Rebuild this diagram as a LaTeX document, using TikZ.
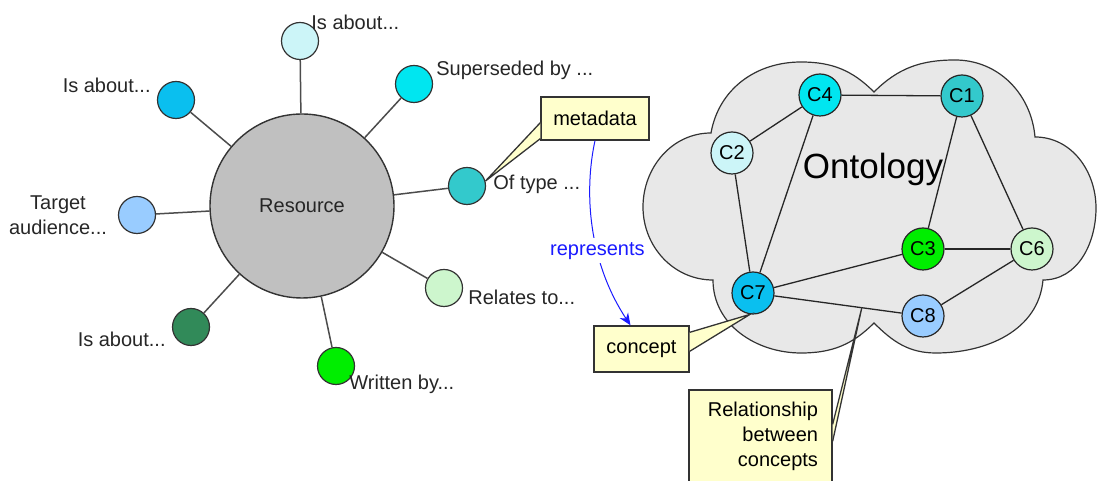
\documentclass[tikz,border=0pt]{standalone}
\usepackage{fontspec}
\setmainfont{Liberation Sans}
\usetikzlibrary{arrows.meta,calc}
\definecolor{resgray}{HTML}{C0C0C0}
\definecolor{cloudgray}{HTML}{E8E8E8}
\definecolor{noteyellow}{HTML}{FFFFCC}
\definecolor{spotpale}{HTML}{CCF5F8}
\definecolor{spotcyan}{HTML}{00E6F0}
\definecolor{spotsky}{HTML}{0ABFEF}
\definecolor{spotteal}{HTML}{33C9CC}
\definecolor{spotblue}{HTML}{99CCFF}
\definecolor{spotmint}{HTML}{CDF6CD}
\definecolor{spotdark}{HTML}{318A59}
\definecolor{spotgreen}{HTML}{00EE00}
\definecolor{repblue}{HTML}{1A1AFF}
\definecolor{labelgray}{HTML}{262626}

\begin{document}
\begin{tikzpicture}[x=0.5pt,y=0.5pt,
    font=\fontsize{10}{12.5}\selectfont,
    spot/.style={circle,draw=black!80,line width=0.6pt,minimum size=18.5pt,inner sep=0pt},
    cnode/.style={circle,draw=black!85,line width=0.6pt,minimum size=21pt,inner sep=0pt},
    spoke/.style={black!70,line width=0.75pt},
    link/.style={black!85,line width=0.65pt},
    note/.style={draw=black!80,fill=noteyellow,line width=0.65pt},
    lbl/.style={text=labelgray,inner sep=0pt}]
  \useasboundingbox(0,0)rectangle(1098,481);
  \clip(0,0)rectangle(1098,481);

  % resource side
  \node[circle,draw=black!80,fill=resgray,line width=0.7pt,minimum size=92pt,inner sep=0pt,text=labelgray](R) at (302,275){Resource};
  \node[spot,fill=spotpale](S1) at (300,440){};
  \node[spot,fill=spotcyan](S2) at (414,397){};
  \node[spot,fill=spotsky](S3) at (176,381){};
  \node[spot,fill=spotteal](S4) at (467,295){};
  \node[spot,fill=spotblue](S5) at (137,266){};
  \node[spot,fill=spotmint](S6) at (444,193){};
  \node[spot,fill=spotdark](S7) at (191,154){};
  \node[spot,fill=spotgreen](S8) at (336,115){};
  \foreach \s in {S1,S2,S3,S4,S5,S6,S7,S8}
    \draw[spoke](R)--(\s);

  \node[lbl,anchor=west](L1) at (311,459){Is about...};
  \node[lbl,anchor=west](L2) at (436,411){Superseded by ...};
  \node[lbl,anchor=east](L3) at (151,396){Is about...};
  \node[lbl,anchor=west](L4) at (493,297){Of type ...};
  \node[lbl,align=center](L5) at (58,266){Target\\audience...};
  \node[lbl,anchor=west](L6) at (468,184){Relates to...};
  \node[lbl,anchor=east](L7) at (166,142){Is about...};
  \node[lbl,anchor=west](L8) at (349,97){Written by...};

  % ontology cloud
  \coordinate(N1) at (713,201);
  \coordinate(E1) at (643,274);
  \coordinate(N2) at (711,348);
  \coordinate(E2) at (801,419);
  \coordinate(N3) at (874,389);
  \coordinate(E3) at (955,421);
  \coordinate(N4) at (1035,344);
  \coordinate(E4) at (1096,273);
  \coordinate(N5) at (1043,201);
  \coordinate(E5) at (936,128);
  \coordinate(N6) at (874,158);
  \coordinate(E6) at (801,128);
  \draw[black!80,fill=cloudgray,line width=0.6pt]
    (N1) to[out=180,in=270] (E1) to[out=90,in=180] (N2)
    to[out=80,in=180] (E2) to[out=0,in=135] (N3)
    to[out=45,in=180] (E3) to[out=0,in=95] (N4)
    to[out=0,in=90] (E4) to[out=270,in=0] (N5)
    to[out=265,in=0] (E5) to[out=180,in=315] (N6)
    to[out=225,in=0] (E6) to[out=180,in=270] (N1) -- cycle;
  \node[font=\fontsize{17.5}{20}\selectfont](onto) at (873,312){Ontology};

  \node[cnode,fill=spotcyan](C4) at (820,386){C4};
  \node[cnode,fill=spotteal](C1) at (962,385){C1};
  \node[cnode,fill=spotpale](C2) at (732,328){C2};
  \node[cnode,fill=spotgreen](C3) at (923,232){C3};
  \node[cnode,fill=spotmint](C6) at (1032,232){C6};
  \node[cnode,fill=spotsky](C7) at (753,188){C7};
  \node[cnode,fill=spotblue](C8) at (923,165){C8};
  \foreach \a/\b in {C4/C1,C4/C2,C4/C7,C2/C7,C1/C3,C1/C6,C3/C6,C3/C7,C7/C8,C8/C6}
    \draw[link](\a)--(\b);

  % callouts
  \node[note,minimum width=54pt,minimum height=21.5pt,inner sep=0pt](meta) at (595,362.5){metadata};
  \node[note,minimum width=47.5pt,minimum height=23pt,inner sep=0pt](con) at (641.5,132){concept};
  \node[note,minimum height=46pt,text width=57.5pt,inner xsep=7pt,inner ysep=0pt,align=right](rel) at (760.5,45){Relationship\\between\\concepts};

  \coordinate(tipmeta) at (S4.15);
  \coordinate(tipcon) at (C7.262);
  \coordinate(tiprel) at ($(C7)!0.64!(C8)$);
  \filldraw[note]($(meta.south west)+(0,18)$)--(tipmeta)--($(meta.south west)+(0,2)$);
  \filldraw[note]($(con.north east)+(0,-7)$)--(tipcon)--($(con.north east)+(0,-26)$);
  \filldraw[note]($(rel.north east)+(0,-35)$)--(tiprel)--($(rel.north east)+(0,-52)$);

  \draw[repblue,line width=0.5pt,-{Stealth[length=6pt,width=5pt]}]
    (meta.south) .. controls (584,290) and (588,220) .. ([xshift=-5.5pt]con.north)
    node[pos=0.62,fill=white,inner sep=2pt,text=repblue](replbl){represents};
\end{tikzpicture}
\end{document}
